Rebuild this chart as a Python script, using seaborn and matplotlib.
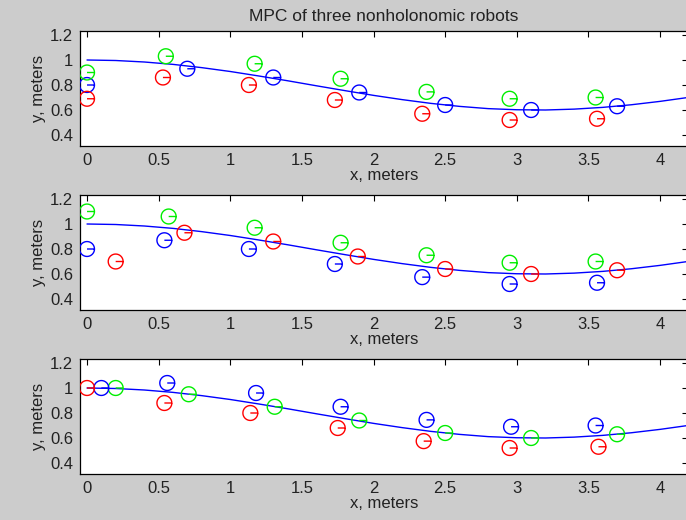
import numpy as np
import pandas as pd
import matplotlib
matplotlib.use("Agg")
import matplotlib.pyplot as plt
from matplotlib.path import Path
from matplotlib.ticker import FuncFormatter
import seaborn as sns

# reference path
ref_x = [0, 0.2, 0.4, 0.6, 0.8, 1.0, 1.2, 1.4, 1.6, 1.8, 2.0, 2.2, 2.4, 2.6, 2.8,
         3.0, 3.2, 3.4, 3.6, 3.8, 4.0, 4.2, 4.4]
ref_y = [1.0, 0.996, 0.984, 0.965, 0.939, 0.908, 0.872, 0.834, 0.794, 0.755, 0.717,
         0.683, 0.653, 0.629, 0.611, 0.602, 0.600, 0.607, 0.621, 0.642, 0.669, 0.701, 0.735]

# panel 1: blue leads, green above, red below
p1_blue_x = [0.0, 0.70, 1.30, 1.90, 2.50, 3.10, 3.70]
p1_blue_y = [0.80, 0.93, 0.86, 0.74, 0.64, 0.60, 0.63]
p1_green_x = [0.0, 0.55, 1.17, 1.77, 2.37, 2.95, 3.55]
p1_green_y = [0.90, 1.03, 0.97, 0.85, 0.745, 0.69, 0.70]
p1_red_x = [0.0, 0.53, 1.13, 1.73, 2.34, 2.95, 3.56]
p1_red_y = [0.69, 0.86, 0.80, 0.68, 0.57, 0.52, 0.53]

# panel 2: red leads, green above, blue below
p2_red_x = [0.20, 0.68, 1.30, 1.89, 2.50, 3.10, 3.70]
p2_red_y = [0.70, 0.93, 0.86, 0.74, 0.64, 0.60, 0.63]
p2_green_x = [0.0, 0.57, 1.17, 1.77, 2.37, 2.95, 3.55]
p2_green_y = [1.10, 1.06, 0.97, 0.85, 0.75, 0.69, 0.70]
p2_blue_x = [0.0, 0.54, 1.13, 1.73, 2.34, 2.95, 3.56]
p2_blue_y = [0.80, 0.87, 0.80, 0.68, 0.575, 0.52, 0.53]

# panel 3: green leads, blue above, red below
p3_green_x = [0.20, 0.71, 1.31, 1.90, 2.50, 3.10, 3.70]
p3_green_y = [1.00, 0.95, 0.85, 0.74, 0.64, 0.60, 0.63]
p3_blue_x = [0.10, 0.56, 1.18, 1.77, 2.37, 2.96, 3.55]
p3_blue_y = [1.00, 1.04, 0.96, 0.85, 0.745, 0.69, 0.70]
p3_red_x = [0.0, 0.54, 1.14, 1.75, 2.35, 2.95, 3.57]
p3_red_y = [1.00, 0.88, 0.80, 0.68, 0.575, 0.52, 0.53]

panels = [
    [("blue", p1_blue_x, p1_blue_y), ("#00ee00", p1_green_x, p1_green_y), ("red", p1_red_x, p1_red_y)],
    [("red", p2_red_x, p2_red_y), ("#00ee00", p2_green_x, p2_green_y), ("blue", p2_blue_x, p2_blue_y)],
    [("#00ee00", p3_green_x, p3_green_y), ("blue", p3_blue_x, p3_blue_y), ("red", p3_red_x, p3_red_y)],
]

# robot glyph: heading line from centre to the right edge, then the body circle
ang = np.linspace(0, 2 * np.pi, 41)
glyph = np.vstack([[[0.0, 0.0]], np.column_stack([np.cos(ang), np.sin(ang)])])
robot = Path(glyph)

sns.set_style("white")
plt.rcParams["font.family"] = ["Liberation Sans", "DejaVu Sans"]

fig = plt.figure(figsize=(6.86, 5.2), dpi=100, facecolor="#cccccc")
tops = [31, 195, 359]
ref = pd.DataFrame({"x": ref_x, "y": ref_y})

for i, (top, robots) in enumerate(zip(tops, panels)):
    ax = fig.add_axes([80 / 686, 1 - (top + 115) / 520, 608 / 686, 115 / 520])
    ax.set_facecolor("white")
    sns.lineplot(data=ref, x="x", y="y", color="blue", linewidth=1, sort=False, ax=ax)
    for col, xs, ys in robots:
        sns.scatterplot(x=xs, y=ys, marker=robot, s=115, facecolor="none",
                        edgecolor=col, linewidth=1, ax=ax, zorder=3)
    ax.set_xlim(-0.049, 4.195)
    ax.set_ylim(0.312, 1.232)
    ax.set_xticks([0, 0.5, 1, 1.5, 2, 2.5, 3, 3.5, 4])
    ax.set_yticks([0.4, 0.6, 0.8, 1.0, 1.2])
    fmt = FuncFormatter(lambda v, p: "%g" % v)
    ax.xaxis.set_major_formatter(fmt)
    ax.yaxis.set_major_formatter(fmt)
    ax.tick_params(direction="in", top=True, right=True, length=4, width=0.8,
                   labelsize=12, colors="black", labelcolor="#222222", pad=5)
    for s in ax.spines.values():
        s.set_color("black")
        s.set_linewidth(0.9)
    ax.set_xlabel("x, meters", fontsize=12, labelpad=0, color="#222222")
    ax.set_ylabel("y, meters", fontsize=12, labelpad=3, color="#222222")
    if i == 0:
        ax.set_title("MPC of three nonholonomic robots", fontsize=12.5, pad=7,
                     color="#222222")

fig.savefig("out.png", dpi=100, facecolor=fig.get_facecolor())
